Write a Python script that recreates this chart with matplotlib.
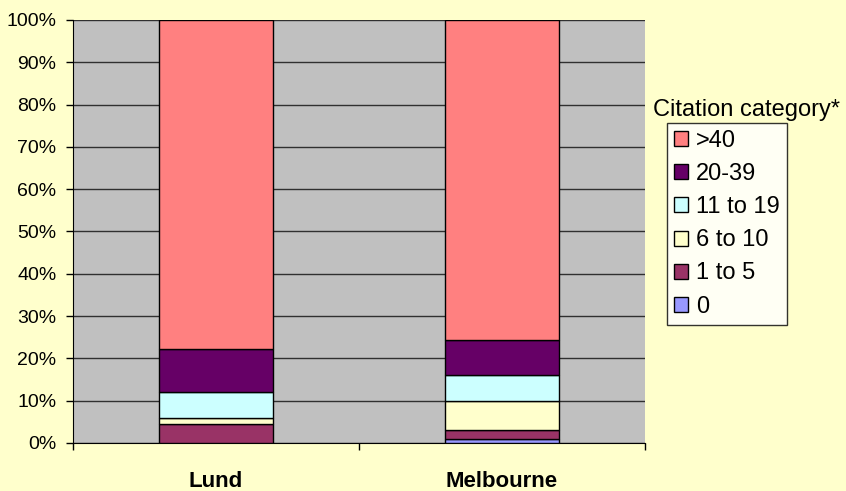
import matplotlib.pyplot as plt
import numpy as np

plt.rcParams['font.family'] = ['Liberation Sans', 'DejaVu Sans']

sites = ['Lund', 'Melbourne']
categories = ['0', '1 to 5', '6 to 10', '11 to 19', '20-39', '>40']
# share of papers (%) per citation category, bottom to top
shares = {
    '0':        [0.0, 1.0],
    '1 to 5':   [4.4, 2.0],
    '6 to 10':  [1.4, 7.0],
    '11 to 19': [6.2, 6.1],
    '20-39':    [10.3, 8.2],
    '>40':      [77.7, 75.7],
}
colors = {
    '0': '#9999FF',
    '1 to 5': '#993366',
    '6 to 10': '#FFFFCC',
    '11 to 19': '#CCFFFF',
    '20-39': '#660066',
    '>40': '#FF8080',
}

fig = plt.figure(figsize=(8.46, 4.91), dpi=100, facecolor='#FFFFCC')
ax = fig.add_axes([0.0863, 0.0978, 0.6761, 0.8615])
ax.set_facecolor('#C0C0C0')

x = np.arange(len(sites))
bottom = np.zeros(len(sites))
handles = []
for cat in categories:
    vals = np.array(shares[cat])
    h = ax.bar(x, vals, 0.4, bottom=bottom, color=colors[cat],
               edgecolor='black', linewidth=1.0, label=cat, zorder=3)
    handles.append(h)
    bottom += vals

ax.set_xlim(-0.5, 1.5)
ax.set_ylim(0, 100)
ax.set_yticks(np.arange(0, 101, 10))
ax.set_yticklabels([f'{v}%' for v in range(0, 101, 10)], fontsize=14)
ax.yaxis.grid(True, color='#303030', linewidth=1.0, zorder=1)
ax.tick_params(axis='y', length=5, width=1, direction='out', pad=7)

ax.set_xticks([-0.5, 0.5, 1.5])
ax.set_xticklabels([])
ax.tick_params(axis='x', length=5, width=1, direction='out')
for xi, name in zip(x, sites):
    ax.text(xi, -0.104, name, ha='center', va='baseline', fontsize=16,
            fontweight='bold', transform=ax.get_xaxis_transform())

for side in ['top', 'right']:
    ax.spines[side].set_visible(False)
ax.spines['left'].set_color('black')
ax.spines['bottom'].set_color('black')

leg = fig.legend(handles[::-1], categories[::-1], loc='upper left',
                 bbox_to_anchor=(0.7884, 0.7495), fontsize=17,
                 frameon=True, fancybox=False, edgecolor='black',
                 handlelength=0.6, handleheight=0.6, handletextpad=0.32,
                 labelspacing=0.47, borderpad=0.3, borderaxespad=0)
leg.get_frame().set_linewidth(1.0)
leg.get_frame().set_facecolor('white')
fig.text(0.772, 0.7637, 'Citation category*', fontsize=17, ha='left', va='baseline')

fig.savefig('out.png', dpi=100, facecolor=fig.get_facecolor())
